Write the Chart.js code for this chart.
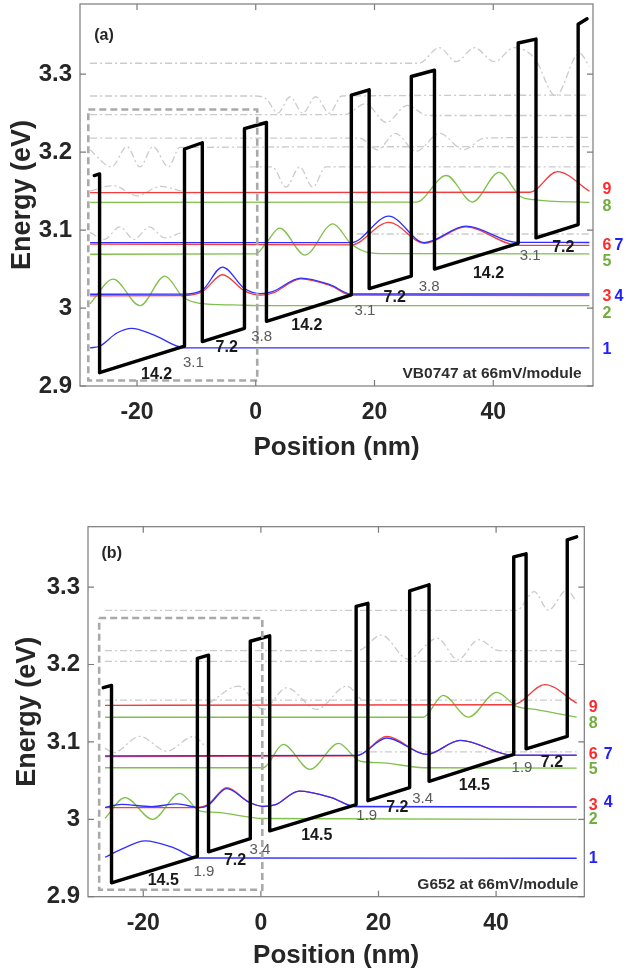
<!DOCTYPE html>
<html>
<head>
<meta charset="utf-8">
<script src="https://cdn.jsdelivr.net/npm/chart.js@4.4.1/dist/chart.umd.min.js"></script>
<style>
  html, body { margin: 0; padding: 0; background: #fff; }
  #wrap { position: relative; width: 626px; height: 975px; overflow: hidden; }
  #ca { position: absolute; left: 0; top: 0; }
  #cb { position: absolute; left: 0; top: 470px; }
</style>
</head>
<body>
<div id="wrap">
  <canvas id="ca" width="626" height="470"></canvas>
  <canvas id="cb" width="626" height="505"></canvas>
</div>
<script>
'use strict';

// ── Axis ticks ────────────────────────────────────────────────────────────────

const xTicks = [-20, 0, 20, 40];
const xTickLabels = ['-20', '0', '20', '40'];
const yTicks = [2.9, 3.0, 3.1, 3.2, 3.3];
const yTickLabels = ['2.9', '3', '3.1', '3.2', '3.3'];

// ── Panel (a): VB0747 ─────────────────────────────────────────────────────────

// conduction band edge (nm, eV)
const aBandX = [-27.2, -26.3, -26.3, -12.0, -12.0, -9.0, -9.0, -1.9, -1.9, 1.8, 1.8, 16.1, 16.1, 19.1, 19.1, 26.2, 26.2, 30.1, 30.1, 44.2, 44.2, 47.2, 47.2, 54.3, 54.3, 55.8];
const aBandE = [3.170, 3.172, 2.917, 2.951, 3.204, 3.212, 2.957, 2.974, 3.230, 3.238, 2.983, 3.017, 3.273, 3.280, 3.025, 3.041, 3.297, 3.305, 3.050, 3.083, 3.340, 3.345, 3.090, 3.107, 3.364, 3.371];

// labelled states 1..9
const aL1X = [-27.9, -26.3, -23.4, -20.9, -17.3, -12.0, 56.2];
const aL1E = [2.949, 2.951, 2.968, 2.974, 2.966, 2.949, 2.949];
const aL2X = [-27.9, -24.0, -19.5, -15.3, -12.3, -9.4, -3.8, 1.8, 56.2];
const aL2E = [3.0055, 3.037, 3.003, 3.041, 3.0145, 3.006, 3.004, 3.003, 3.003];
const aL3X = [-27.9, -12.3, -9.0, -5.6, -1.9, 0.8, 2.8, 7.6, 12.5, 16.1, 56.2];
const aL3E = [3.0156, 3.0158, 3.021, 3.0427, 3.022, 3.0165, 3.019, 3.0375, 3.029, 3.0165, 3.0158];
const aL4X = [-27.9, -12.3, -9.0, -5.6, -1.9, 0.8, 2.8, 7.6, 12.5, 16.1, 56.2];
const aL4E = [3.0177, 3.0178, 3.023, 3.0526, 3.025, 3.0185, 3.021, 3.0385, 3.030, 3.018, 3.018];
const aL5X = [-27.9, 0.0, 1.8, 4.0, 8.3, 13.0, 16.1, 18.8, 22.0, 56.2];
const aL5E = [3.069, 3.0695, 3.084, 3.1026, 3.068, 3.108, 3.082, 3.0715, 3.0697, 3.0696];
const aL6X = [-27.9, 16.1, 22.4, 28.4, 35.4, 44.1, 56.2];
const aL6E = [3.082, 3.081, 3.110, 3.083, 3.104, 3.0805, 3.0803];
const aL7X = [-27.9, 16.1, 22.4, 28.4, 35.4, 44.1, 56.2];
const aL7E = [3.084, 3.084, 3.118, 3.084, 3.105, 3.0842, 3.0841];
const aL8X = [-27.9, 27.0, 32.1, 36.5, 41.0, 44.6, 46.8, 56.2];
const aL8E = [3.1355, 3.1358, 3.170, 3.136, 3.174, 3.143, 3.139, 3.1355];
const aL9X = [-27.9, 46.2, 50.8, 56.2];
const aL9E = [3.148, 3.1485, 3.175, 3.150];

// unlabelled upper states (grey dash-dot)
const aG1X = [-27.9, 27.5, 30.9, 33.8, 36.8, 40.2, 43.5, 47.0, 50.5, 54.5, 56.2];
const aG1E = [3.314, 3.314, 3.334, 3.316, 3.334, 3.316, 3.334, 3.320, 3.272, 3.327, 3.310];
const aG2X = [-27.9, 0.0, 1.8, 3.7, 5.8, 7.9, 10.1, 12.4, 14.5, 56.2];
const aG2E = [3.272, 3.272, 3.268, 3.250, 3.271, 3.250, 3.271, 3.250, 3.272, 3.273];
const aG3X = [-27.9, 15.0, 18.5, 22.0, 25.5, 29.0, 56.2];
const aG3E = [3.248, 3.248, 3.262, 3.238, 3.260, 3.247, 3.247];
const aG4X = [-27.9, 17.5, 20.5, 23.5, 27.0, 31.0, 35.0, 38.5, 56.2];
const aG4E = [3.218, 3.218, 3.203, 3.224, 3.201, 3.224, 3.203, 3.218, 3.219];
const aG5X = [-27.9, -24.3, -21.7, -19.5, -17.3, -14.7, -12.8, 56.2];
const aG5E = [3.203, 3.181, 3.207, 3.181, 3.207, 3.181, 3.206, 3.207];
const aG6X = [-1.0, 2.8, 5.1, 7.4, 9.6, 11.8, 56.2];
const aG6E = [3.181, 3.181, 3.155, 3.181, 3.155, 3.181, 3.181];
const aG7X = [-27.9, -24.0, -20.0, -16.0, -12.5];
const aG7E = [3.150, 3.157, 3.144, 3.156, 3.150];
const aG8X = [-27.9, -25.5, -22.9, -20.5, -17.9, -15.3, -12.5];
const aG8E = [3.097, 3.088, 3.104, 3.088, 3.104, 3.090, 3.097];
const aG9X = [17.0, 56.2];
const aG9E = [3.095, 3.095];

// one module, framed
const aBoxX = [-28.2, 0.25, 0.25, -28.2, -28.2];
const aBoxE = [3.2546, 3.2546, 2.907, 2.907, 3.2546];

// ── Panel (b): G652 ───────────────────────────────────────────────────────────

const bBandX = [-26.8, -25.4, -25.4, -10.8, -10.8, -8.9, -8.9, -1.8, -1.8, 1.5, 1.5, 16.2, 16.2, 18.2, 18.2, 25.3, 25.3, 28.6, 28.6, 43.0, 43.0, 45.1, 45.1, 52.1, 52.1, 53.7];
const bBandE = [3.170, 3.173, 2.918, 2.952, 3.208, 3.212, 2.958, 2.975, 3.230, 3.237, 2.985, 3.019, 3.275, 3.279, 3.024, 3.041, 3.295, 3.303, 3.049, 3.084, 3.339, 3.343, 3.091, 3.107, 3.361, 3.365];

const bL1X = [-26.5, -23.5, -19.7, -14.9, -10.7, 53.7];
const bL1E = [2.951, 2.962, 2.972, 2.9635, 2.950, 2.9497];
const bL2X = [-26.5, -23.1, -18.4, -13.8, -10.4, -7.5, 0.4, 53.7];
const bL2E = [3.0013, 3.028, 3.000, 3.0335, 3.011, 3.009, 3.001, 3.000];
const bL3X = [-26.5, -10.9, -9.0, -5.8, -2.0, 0.4, 2.5, 6.5, 12.0, 16.0, 53.7];
const bL3E = [3.0152, 3.0152, 3.019, 3.041, 3.022, 3.0165, 3.019, 3.0365, 3.028, 3.0163, 3.0158];
const bL4X = [-26.5, -23.7, -18.6, -14.3, -10.4, -9.0, -5.8, -2.0, 0.4, 2.5, 6.5, 12.0, 16.0, 53.7];
const bL4E = [3.0155, 3.0193, 3.0163, 3.020, 3.015, 3.018, 3.0396, 3.022, 3.0168, 3.019, 3.0365, 3.028, 3.0165, 3.016];
const bL5X = [-26.5, 0.4, 3.8, 8.35, 13.2, 16.9, 20.8, 27.6, 53.7];
const bL5E = [3.0666, 3.0666, 3.0967, 3.0644, 3.098, 3.075, 3.073, 3.0666, 3.066];
const bL6X = [-26.5, 16.3, 21.4, 28.2, 33.9, 42.9, 53.7];
const bL6E = [3.081, 3.082, 3.107, 3.0838, 3.102, 3.0825, 3.0825];
const bL7X = [-26.5, 16.3, 21.4, 28.2, 33.9, 42.9, 53.7];
const bL7E = [3.082, 3.0825, 3.105, 3.0838, 3.102, 3.0828, 3.0828];
const bL8X = [-26.5, 27.6, 31.0, 35.3, 40.1, 43.5, 46.9, 53.7];
const bL8E = [3.1318, 3.1318, 3.160, 3.132, 3.164, 3.146, 3.1418, 3.132];
const bL9X = [-26.5, 42.9, 48.3, 53.7];
const bL9E = [3.1473, 3.148, 3.174, 3.150];

const bG1X = [-26.5, 43.5, 46.5, 48.9, 52.0, 53.7];
const bG1E = [3.270, 3.270, 3.294, 3.270, 3.296, 3.281];
const bG2X = [-26.5, 16.5, 20.5, 25.0, 30.0, 33.5, 37.0, 40.5, 53.7];
const bG2E = [3.218, 3.218, 3.238, 3.207, 3.234, 3.206, 3.232, 3.218, 3.218];
const bG3X = [-26.5, 53.7];
const bG3E = [3.204, 3.204];
const bG4X = [-8.8, -3.8, 0.4, 4.4, 9.5, 14.6, 17.0];
const bG4E = [3.150, 3.172, 3.142, 3.170, 3.142, 3.172, 3.155];
const bG5X = [-26.5, 53.7];
const bG5E = [3.154, 3.154];
const bG6X = [-26.5, -25.1, -20.6, -16.0, -11.5, -9.5];
const bG6E = [3.092, 3.086, 3.107, 3.088, 3.107, 3.095];
const bG7X = [16.0, 53.7];
const bG7E = [3.087, 3.087];

const bBoxX = [-27.5, 0.24, 0.24, -27.5, -27.5];
const bBoxE = [3.26, 3.26, 2.909, 2.909, 3.26];

// ── Layer thickness labels (text, nm, eV) ────────────────────────────────────

const aWells = [['14.2', -16.7, 2.915], ['7.2', -4.9, 2.949], ['14.2', 8.6, 2.977], ['7.2', 23.4, 3.0136], ['14.2', 39.2, 3.044], ['7.2', 51.8, 3.077]];
const aBarriers = [['3.1', -10.5, 2.930], ['3.8', 1.0, 2.963], ['3.1', 18.4, 2.996], ['3.8', 29.2, 3.027], ['3.1', 46.2, 3.067]];
const bWells = [['14.5', -16.6, 2.9205], ['7.2', -4.4, 2.946], ['14.5', 9.5, 2.9785], ['7.2', 23.2, 3.015], ['14.5', 36.3, 3.044], ['7.2', 49.5, 3.073]];
const bBarriers = [['1.9', -9.7, 2.932], ['3.4', -0.15, 2.960], ['1.9', 18.0, 3.005], ['3.4', 27.5, 3.026], ['1.9', 44.4, 3.066]];

// state numbers at the right edge: text, eV, column, colour key
const aTags = [['9', 3.1513, 0, 'r'], ['8', 3.130, 0, 'g'], ['6', 3.0797, 0, 'r'], ['7', 3.0797, 1, 'b'], ['5', 3.0597, 0, 'g'], ['3', 3.0148, 0, 'r'], ['4', 3.0148, 1, 'b'], ['2', 2.9927, 0, 'g'], ['1', 2.9466, 0, 'b']];
const bTags = [['9', 3.144, 0, 'r'], ['8', 3.1237, 0, 'g'], ['6', 3.0838, 0, 'r'], ['7', 3.0838, 1, 'b'], ['5', 3.0644, 0, 'g'], ['3', 3.018, 0, 'r'], ['4', 3.0215, 1, 'b'], ['2', 2.999, 0, 'g'], ['1', 2.9497, 0, 'b']];

// ── Styles ────────────────────────────────────────────────────────────────────

const FONT = "'Liberation Sans', Arial, Helvetica, sans-serif";
const INK = '#262626';
const FRAME = '#7b7b7b';
const RED = '#f53c3c', BLUE = '#2f2fff', GREEN = '#80c04c', GREY = '#cbcbcb';
const TAG = { r: '#ff2a2a', g: '#72ad3e', b: '#2020ff' };

const pts = (xs, es) => xs.map((x, i) => ({ x, y: es[i] }));

const level = (xs, es, color, order) => ({
  data: pts(xs, es), borderColor: color, borderWidth: 1.3,
  cubicInterpolationMode: 'monotone', order,
});
const ghost = (xs, es) => ({
  data: pts(xs, es), borderColor: GREY, borderWidth: 1.3,
  borderDash: [7, 3, 2, 3], cubicInterpolationMode: 'monotone', order: 5,
});
const band = (xs, es) => ({
  data: pts(xs, es), borderColor: '#000', borderWidth: 3.4, tension: 0,
  borderJoinStyle: 'round', borderCapStyle: 'round', order: 1,
});
const frameBox = (xs, es) => ({
  data: pts(xs, es), borderColor: '#a9a9a9', borderWidth: 2.6, tension: 0,
  borderDash: [7, 4], order: 0,
});

// ── Overlay: box, inward ticks, labels ────────────────────────────────────────

function overlay(p) {
  return {
    id: 'overlay',
    afterDatasetsDraw(chart) {
      const { ctx, chartArea: a, scales: { x, y } } = chart;
      ctx.save();

      ctx.strokeStyle = FRAME;
      ctx.lineWidth = 1.2;
      ctx.strokeRect(a.left, a.top, a.right - a.left, a.bottom - a.top);
      ctx.beginPath();
      xTicks.forEach(v => {
        const px = x.getPixelForValue(v);
        ctx.moveTo(px, a.bottom); ctx.lineTo(px, a.bottom - 6);
        ctx.moveTo(px, a.top); ctx.lineTo(px, a.top + 6);
      });
      yTicks.forEach(v => {
        const py = y.getPixelForValue(v);
        ctx.moveTo(a.left, py); ctx.lineTo(a.left + 6, py);
        ctx.moveTo(a.right, py); ctx.lineTo(a.right - 6, py);
      });
      ctx.stroke();

      ctx.textAlign = 'center';
      ctx.textBaseline = 'middle';
      ctx.font = `bold 16px ${FONT}`;
      ctx.fillStyle = '#1a1a1a';
      p.wells.forEach(([t, vx, vy]) => ctx.fillText(t, x.getPixelForValue(vx), y.getPixelForValue(vy)));
      ctx.font = `15px ${FONT}`;
      ctx.fillStyle = '#5a5a5a';
      p.barriers.forEach(([t, vx, vy]) => ctx.fillText(t, x.getPixelForValue(vx), y.getPixelForValue(vy)));

      ctx.font = `bold 16px ${FONT}`;
      p.tags.forEach(([t, vy, col, c]) => {
        ctx.fillStyle = TAG[c];
        ctx.fillText(t, a.right + p.tagCols[col], y.getPixelForValue(vy));
      });

      ctx.fillStyle = INK;
      ctx.textAlign = 'left';
      ctx.font = `bold 16px ${FONT}`;
      ctx.fillText(p.panel[0], x.getPixelForValue(p.panel[1]), y.getPixelForValue(p.panel[2]));
      ctx.textAlign = 'right';
      ctx.font = `bold 15.5px ${FONT}`;
      ctx.fillStyle = '#2e2e2e';
      ctx.fillText(p.caption[0], x.getPixelForValue(p.caption[1]), y.getPixelForValue(p.caption[2]));

      ctx.restore();
    },
  };
}

// ── Chart factory ─────────────────────────────────────────────────────────────

function makeChart(id, p) {
  return new Chart(document.getElementById(id), {
    type: 'line',
    data: { datasets: p.datasets },
    options: {
      responsive: false,
      animation: false,
      events: [],
      layout: { padding: p.pad },
      elements: { point: { radius: 0 }, line: { fill: false } },
      plugins: { legend: { display: false }, tooltip: { enabled: false } },
      scales: {
        x: {
          type: 'linear', min: p.xMin, max: p.xMax,
          afterBuildTicks: s => { s.ticks = xTicks.map(v => ({ value: v })); },
          afterFit: s => { s.height = p.xHeight; s.paddingLeft = 0; s.paddingRight = 0; },
          grid: { display: false, drawTicks: false },
          border: { display: false },
          ticks: {
            autoSkip: false, maxRotation: 0, padding: p.xTickPad, color: INK,
            font: { family: FONT, size: 23, weight: 'bold' },
            callback: (v, i) => xTickLabels[i],
          },
          title: {
            display: true, text: 'Position (nm)', color: INK,
            font: { family: FONT, size: 26, weight: 'bold' },
            padding: { top: 0, bottom: p.xTitlePad },
          },
        },
        y: {
          type: 'linear', min: 2.9, max: p.yMax,
          afterBuildTicks: s => { s.ticks = yTicks.map(v => ({ value: v })); },
          afterFit: s => { s.width = p.yWidth; s.paddingTop = 0; s.paddingBottom = 0; },
          grid: { display: false, drawTicks: false },
          border: { display: false },
          ticks: {
            autoSkip: false, padding: 8, color: INK,
            font: { family: FONT, size: 24, weight: 'bold' },
            callback: (v, i) => yTickLabels[i],
          },
          title: {
            display: true, text: 'Energy (eV)', color: INK,
            font: { family: FONT, size: 27, weight: 'bold' },
            padding: { top: p.yTitlePad, bottom: 0 },
          },
        },
      },
    },
    plugins: [overlay(p)],
  });
}

// ── Boot ──────────────────────────────────────────────────────────────────────

makeChart('ca', {
  xMin: -29.6, xMax: 56.8, yMax: 3.39,
  pad: { left: 0, right: 33, top: 4, bottom: 0 },
  yWidth: 80, xHeight: 84, xTickPad: 13, xTitlePad: 7, yTitlePad: 6,
  wells: aWells, barriers: aBarriers, tags: aTags, tagCols: [14, 26],
  panel: ['(a)', -27.2, 3.3496], caption: ['VB0747 at 66mV/module', 54.9, 2.916],
  datasets: [
    frameBox(aBoxX, aBoxE),
    band(aBandX, aBandE),
    level(aL7X, aL7E, BLUE, 2), level(aL4X, aL4E, BLUE, 2), level(aL1X, aL1E, BLUE, 2),
    level(aL9X, aL9E, RED, 3), level(aL6X, aL6E, RED, 3), level(aL3X, aL3E, RED, 3),
    level(aL8X, aL8E, GREEN, 4), level(aL5X, aL5E, GREEN, 4), level(aL2X, aL2E, GREEN, 4),
    ghost(aG1X, aG1E), ghost(aG2X, aG2E), ghost(aG3X, aG3E), ghost(aG4X, aG4E), ghost(aG5X, aG5E),
    ghost(aG6X, aG6E), ghost(aG7X, aG7E), ghost(aG8X, aG8E), ghost(aG9X, aG9E),
  ],
});

makeChart('cb', {
  xMin: -29.4, xMax: 55.0, yMax: 3.378,
  pad: { left: 0, right: 41.7, top: 56.7, bottom: 0 },
  yWidth: 88, xHeight: 78.3, xTickPad: 13.4, xTitlePad: 3.3, yTitlePad: 11.8,
  wells: bWells, barriers: bBarriers, tags: bTags, tagCols: [9, 24],
  panel: ['(b)', -27.1, 3.3437], caption: ['G652 at 66mV/module', 54.0, 2.916],
  datasets: [
    frameBox(bBoxX, bBoxE),
    band(bBandX, bBandE),
    level(bL7X, bL7E, BLUE, 2), level(bL4X, bL4E, BLUE, 2), level(bL1X, bL1E, BLUE, 2),
    level(bL9X, bL9E, RED, 3), level(bL6X, bL6E, RED, 3), level(bL3X, bL3E, RED, 3),
    level(bL8X, bL8E, GREEN, 4), level(bL5X, bL5E, GREEN, 4), level(bL2X, bL2E, GREEN, 4),
    ghost(bG1X, bG1E), ghost(bG2X, bG2E), ghost(bG3X, bG3E), ghost(bG4X, bG4E),
    ghost(bG5X, bG5E), ghost(bG6X, bG6E), ghost(bG7X, bG7E),
  ],
});
</script>
</body>
</html>
